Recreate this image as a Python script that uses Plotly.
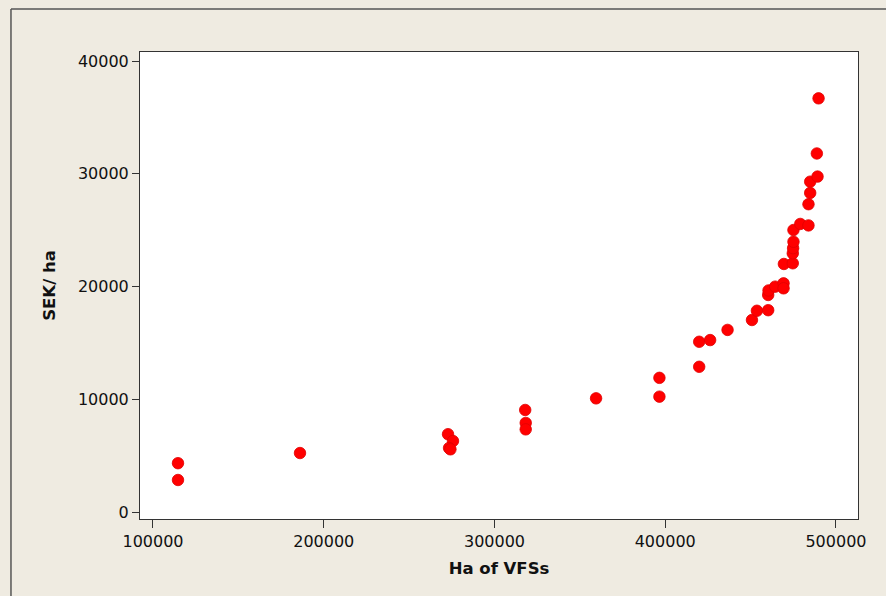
import plotly.graph_objects as go

ha_vfs = [114650, 114650, 186100, 272800, 275700, 273400, 274200, 318000, 318300, 318300,
          359500, 396600, 396600, 419900, 419900, 426300, 436500, 450800, 453700, 460300,
          460300, 460500, 464400, 469300, 469300, 469500, 474700, 474700, 474900, 475100,
          475100, 479100, 483900, 483900, 484900, 484900, 489200, 488800, 489800]
sek_ha = [4330, 2840, 5230, 6900, 6300, 5680, 5560, 9050, 7900, 7330,
          10080, 11900, 10230, 15100, 12880, 15250, 16150, 17030, 17850, 17900,
          19250, 19650, 19990, 20280, 19840, 22000, 22060, 22940, 23400, 23970,
          25010, 25550, 25420, 27300, 28300, 29300, 29750, 31800, 36690]

x_ticks = [100000, 200000, 300000, 400000, 500000]
y_ticks = [0, 10000, 20000, 30000, 40000]

fig = go.Figure()
fig.add_trace(go.Scatter(
    x=ha_vfs, y=sek_ha, mode="markers",
    marker=dict(color="#FF0000", size=11.5, line=dict(color="#E00000", width=0.8)),
    showlegend=False, hoverinfo="x+y"))

axis_font = dict(family="DejaVu Sans", size=16, color="#111111")
title_font = dict(family="DejaVu Sans", size=16.5, color="#111111")
fig.update_layout(
    width=886, height=596,
    paper_bgcolor="#EFEBE1", plot_bgcolor="#FFFFFF",
    margin=dict(l=140, r=28, t=52, b=77),
    font=axis_font,
    xaxis=dict(range=[92400, 512900], tickvals=x_ticks, ticktext=[str(v) for v in x_ticks],
               ticks="outside", ticklen=8, tickcolor="#333333", showgrid=False, zeroline=False,
               showline=True, linecolor="#333333", linewidth=1, mirror=True,
               tickfont=axis_font,
               title=dict(text="<b>Ha of VFSs</b>", font=title_font, standoff=12)),
    yaxis=dict(range=[-620, 40800], tickvals=y_ticks, ticktext=[str(v) for v in y_ticks],
               ticks="outside", ticklen=7, tickcolor="#333333", showgrid=False, zeroline=False,
               showline=True, linecolor="#333333", linewidth=1, mirror=True,
               tickfont=axis_font,
               title=dict(text="<b>SEK/ ha</b>", font=title_font, standoff=18)),
)

# outer frame lines (top and left)
fig.add_shape(type="line", xref="paper", yref="paper", x0=-0.1797, x1=1.1, y0=1.092, y1=1.092,
              line=dict(color="#555555", width=1.5))
fig.add_shape(type="line", xref="paper", yref="paper", x0=-0.1797, x1=-0.1797, y0=-0.3, y1=1.092,
              line=dict(color="#555555", width=1.5))

fig.write_html("out.html", config={"displayModeBar": False},
               post_script="document.body.style.margin='0px';document.body.style.padding='0px';")
